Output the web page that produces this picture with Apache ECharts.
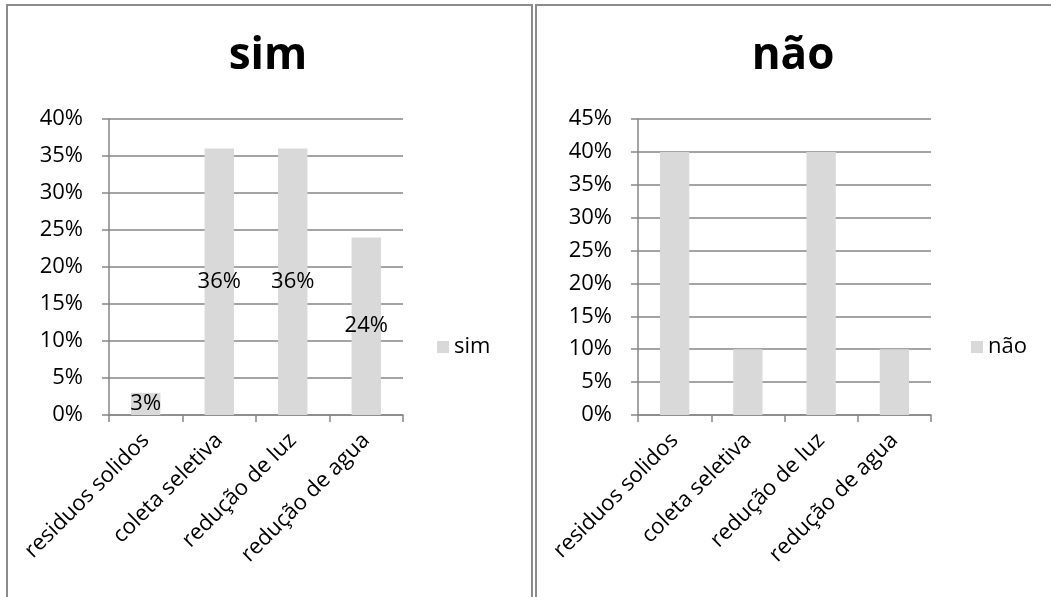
<!DOCTYPE html>
<html>
<head>
<meta charset="utf-8">
<script src="https://cdn.jsdelivr.net/npm/echarts@6/dist/echarts.min.js"></script>
<style>
html,body{margin:0;padding:0;background:#fff;}
#c{width:1051px;height:597px;}
</style>
</head>
<body>
<div id="c"></div>
<script>
const categories = ['residuos solidos', 'coleta seletiva', 'redução de luz', 'redução de agua'];
const simValues = [0.03, 0.36, 0.36, 0.24];
const naoValues = [0.40, 0.10, 0.40, 0.10];
const seriesNames = ['sim', 'não'];
const titles = ['sim', 'não'];
const yMax = [0.40, 0.45];

const FONT = '"Open Sans", "DejaVu Sans", sans-serif';
const GREY = '#868686';
const BAR = '#d9d9d9';
const FS = 22;
const pct = v => Math.round(v * 100) + '%';

const chart = echarts.init(document.getElementById('c'));

function xAxis(i) {
  return {
    type: 'category', gridIndex: i, data: categories, boundaryGap: true,
    axisLine: { show: true, lineStyle: { color: GREY, width: 1.5 } },
    axisTick: { show: true, length: 7, alignWithLabel: false, lineStyle: { color: GREY, width: 1.5 } },
    axisLabel: { interval: 0, rotate: 45, fontFamily: FONT, fontSize: FS, color: '#000', margin: 22 }
  };
}
function yAxis(i) {
  return {
    type: 'value', gridIndex: i, min: 0, max: yMax[i], interval: 0.05,
    axisLine: { show: true, lineStyle: { color: GREY, width: 1.5 } },
    axisTick: { show: true, length: 7, lineStyle: { color: GREY, width: 1.5 } },
    splitLine: { show: true, lineStyle: { color: GREY, width: 1.5 } },
    axisLabel: { formatter: pct, fontFamily: FONT, fontSize: FS, color: '#000', margin: 26 }
  };
}

chart.setOption({
  animation: false,
  backgroundColor: '#fff',
  graphic: [
    { type: 'rect', shape: { x: 7, y: 5, width: 525, height: 620 }, style: { fill: 'none', stroke: '#8c8c8c', lineWidth: 2 }, z: 100 },
    { type: 'rect', shape: { x: 536, y: 5, width: 540, height: 620 }, style: { fill: 'none', stroke: '#8c8c8c', lineWidth: 2 }, z: 100 }
  ],
  title: [
    { text: titles[0], left: 263, top: 29, textAlign: 'center', textStyle: { fontFamily: FONT, fontSize: 44, fontWeight: 'bold', color: '#000' } },
    { text: titles[1], left: 788, top: 29, textAlign: 'center', textStyle: { fontFamily: FONT, fontSize: 44, fontWeight: 'bold', color: '#000' } }
  ],
  legend: [
    { data: [seriesNames[0]], left: 432, top: 331, icon: 'rect', itemWidth: 12, itemHeight: 12, itemGap: 6, textStyle: { fontFamily: FONT, fontSize: FS, color: '#000' } },
    { data: [seriesNames[1]], left: 966, top: 331, icon: 'rect', itemWidth: 12, itemHeight: 12, itemGap: 6, textStyle: { fontFamily: FONT, fontSize: FS, color: '#000' } }
  ],
  grid: [
    { left: 109, top: 119, width: 294, height: 296, containLabel: false },
    { left: 638, top: 119, width: 293, height: 296, containLabel: false }
  ],
  xAxis: [xAxis(0), xAxis(1)],
  yAxis: [yAxis(0), yAxis(1)],
  series: [
    {
      name: seriesNames[0], type: 'bar', xAxisIndex: 0, yAxisIndex: 0, data: simValues,
      barWidth: '40%', itemStyle: { color: BAR },
      label: { show: true, position: 'inside', formatter: p => pct(p.value), fontFamily: FONT, fontSize: FS, color: '#000' }
    },
    {
      name: seriesNames[1], type: 'bar', xAxisIndex: 1, yAxisIndex: 1, data: naoValues,
      barWidth: '40%', itemStyle: { color: BAR }
    }
  ]
});
</script>
</body>
</html>
